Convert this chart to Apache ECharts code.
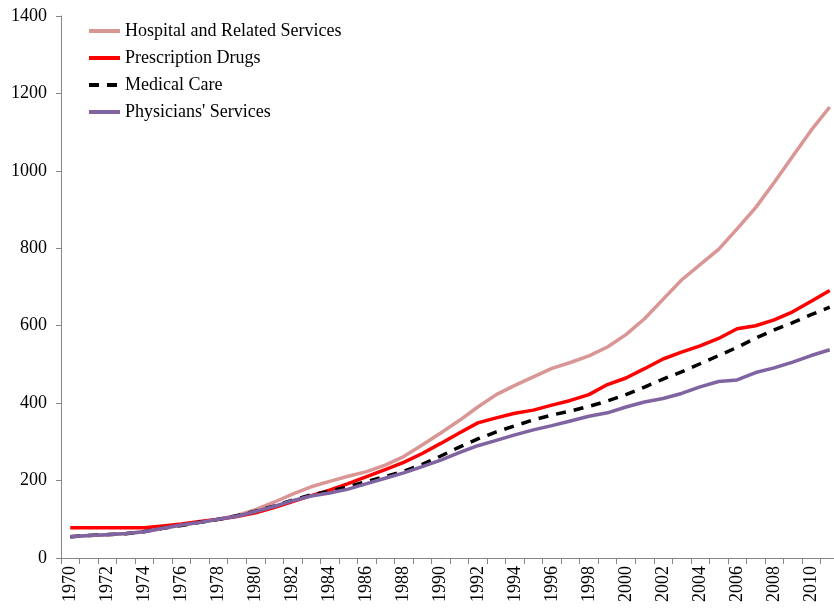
<!DOCTYPE html>
<html>
<head>
<meta charset="utf-8">
<script src="https://cdn.jsdelivr.net/npm/echarts@6/dist/echarts.min.js"></script>
<style>
  html, body { margin: 0; padding: 0; background: #fff; }
  #chart { width: 834px; height: 610px; }
</style>
</head>
<body>
<div id="chart"></div>
<script>
// years on the category axis
var years = [];
for (var y = 1970; y <= 2011; y++) years.push(String(y));

// index values, 1978 = 100
var hospital = [55, 58, 60, 63, 68, 77, 85, 92, 100, 110,
  125, 144, 165, 184, 198, 211, 223, 240, 262, 292,
  323, 355, 390, 422, 446, 468, 490, 505, 522, 545,
  577, 618, 668, 718, 758, 797, 850, 905, 970, 1038,
  1105, 1165];
var drugs = [78, 78, 78, 78, 78, 83, 88, 94, 100, 107,
  117, 130, 146, 161, 175, 192, 210, 228, 247, 270,
  296, 323, 349, 362, 374, 382, 395, 407, 422, 448,
  465, 489, 514, 532, 548, 567, 592, 600, 615, 636,
  663, 691];
var medical = [55, 58.4, 60.4, 62.8, 68.6, 76.9, 84.1, 92.2, 100, 109.2,
  121.2, 134.1, 149.7, 162.8, 172.8, 183.7, 197.4, 210.5, 224.3, 241.6,
  263.4, 286.4, 307.6, 325.9, 341.4, 356.8, 369.3, 379.6, 391.7, 405.5,
  422, 441.4, 462.1, 480.7, 501.8, 523, 544, 568.1, 589.2, 607.8,
  628.5, 647.7];
var physicians = [55, 58, 60, 63, 68, 77, 85, 92, 100, 108,
  120, 133, 148, 160, 168, 178, 192, 206, 220, 236,
  253, 272, 290, 304, 318, 331, 342, 354, 366, 375,
  390, 403, 412, 425, 442, 456, 460, 479, 491, 506,
  523, 538];

var yTicks = [0, 200, 400, 600, 800, 1000, 1200, 1400];

var font = 'Liberation Serif';
var chart = echarts.init(document.getElementById('chart'));

chart.setOption({
  animation: false,
  textStyle: { fontFamily: font },
  grid: { left: 61, top: 16, width: 778, bottom: 52, containLabel: false, outerBoundsMode: 'none' },
  legend: {
    orient: 'vertical',
    left: 87,
    top: 22,
    padding: 0,
    itemWidth: 31,
    itemHeight: 10,
    itemGap: 9,
    itemStyle: { opacity: 0 },
    lineStyle: { width: 4 },
    textStyle: { fontFamily: font, fontSize: 18, lineHeight: 18, color: '#000' },
    data: ['Hospital and Related Services', 'Prescription Drugs', 'Medical Care', "Physicians' Services"]
  },
  xAxis: {
    type: 'category',
    data: years,
    boundaryGap: true,
    axisLine: { lineStyle: { color: '#868686', width: 1 } },
    axisTick: { show: true, interval: 0, length: 6, lineStyle: { color: '#868686' } },
    axisLabel: { interval: 1, rotate: 90, margin: 8, fontFamily: font, fontSize: 18, color: '#000' }
  },
  yAxis: {
    type: 'value',
    min: yTicks[0],
    max: yTicks[yTicks.length - 1],
    interval: 200,
    splitLine: { show: false },
    axisLine: { show: true, lineStyle: { color: '#868686', width: 1 } },
    axisTick: { show: true, length: 5, lineStyle: { color: '#868686' } },
    axisLabel: {
      margin: 14, fontFamily: font, fontSize: 18, color: '#000',
      formatter: function (v) { return String(v); }
    }
  },
  series: [
    {
      name: 'Hospital and Related Services', type: 'line', data: hospital,
      symbol: 'none', color: '#D99694', lineStyle: { width: 3.5, color: '#D99694' }
    },
    {
      name: 'Prescription Drugs', type: 'line', data: drugs,
      symbol: 'none', color: '#FF0000', lineStyle: { width: 3.5, color: '#FF0000' }
    },
    {
      name: 'Medical Care', type: 'line', data: medical,
      symbol: 'none', color: '#000000', lineStyle: { width: 3.5, color: '#000000', type: [10, 8] }
    },
    {
      name: "Physicians' Services", type: 'line', data: physicians,
      symbol: 'none', color: '#8064A2', lineStyle: { width: 3.5, color: '#8064A2' }
    }
  ]
});
</script>
</body>
</html>
